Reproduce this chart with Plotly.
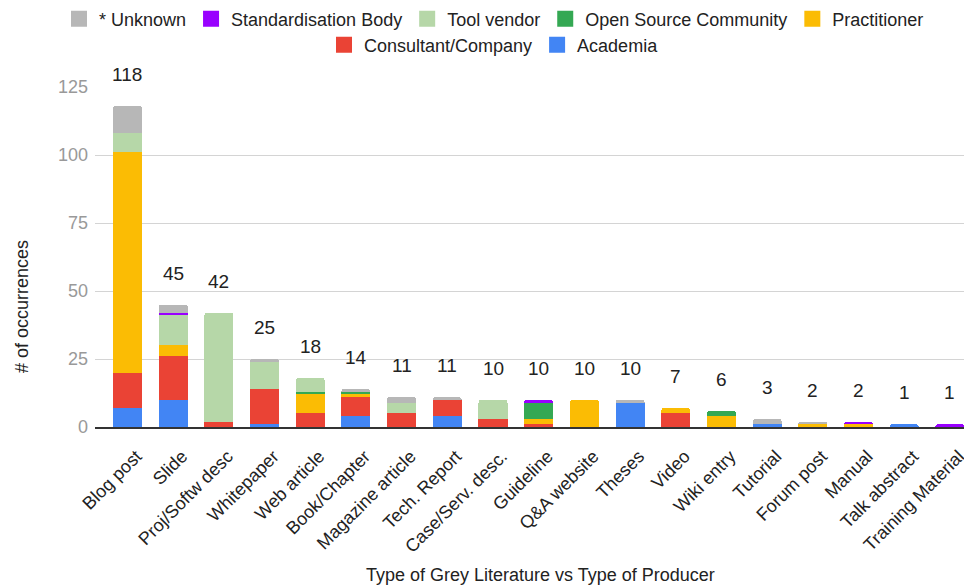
import plotly.graph_objects as go

categories = ["Blog post", "Slide", "Proj/Softw desc", "Whitepaper", "Web article",
              "Book/Chapter", "Magazine article", "Tech. Report", "Case/Serv. desc.",
              "Guideline", "Q&A website", "Theses", "Video", "Wiki entry", "Tutorial",
              "Forum post", "Manual", "Talk abstract", "Training Material"]

academia        = [7, 10, 0, 1, 0, 4, 0, 4, 0, 0, 0, 9, 0, 0, 1, 0, 0, 1, 0]
consultant      = [13, 16, 2, 13, 5, 7, 5, 6, 3, 1, 0, 0, 5, 0, 0, 0, 0, 0, 0]
practitioner    = [81, 4, 0, 0, 7, 1, 0, 0, 0, 2, 10, 0, 2, 4, 0, 1, 1, 0, 0]
open_source     = [0, 0, 0, 0, 1, 1, 0, 0, 0, 6, 0, 0, 0, 2, 0, 0, 0, 0, 0]
tool_vendor     = [7, 11, 40, 10, 5, 0, 4, 0, 7, 0, 0, 0, 0, 0, 0, 0, 0, 0, 0]
standardisation = [0, 1, 0, 0, 0, 0, 0, 0, 0, 1, 0, 0, 0, 0, 0, 0, 1, 0, 1]
unknown         = [10, 3, 0, 1, 0, 1, 2, 1, 0, 0, 0, 1, 0, 0, 2, 1, 0, 0, 0]

y_ticks = [0, 25, 50, 75, 100, 125]

# (name, values, colour, legend row, position in legend)
series = [
    ("Academia", academia, "#4285f4", "legend2", 2),
    ("Consultant/Company", consultant, "#ea4335", "legend2", 1),
    ("Practitioner", practitioner, "#fbbc04", "legend", 5),
    ("Open Source Community", open_source, "#34a853", "legend", 4),
    ("Tool vendor", tool_vendor, "#b6d7a8", "legend", 3),
    ("Standardisation Body", standardisation, "#9900ff", "legend", 2),
    ("* Unknown", unknown, "#b7b7b7", "legend", 1),
]

FONT = "Liberation Sans, Arial, sans-serif"
TXT = "#222222"

fig = go.Figure()
for name, vals, color, leg, rank in series:
    fig.add_trace(go.Bar(x=categories, y=vals, name=name, marker_color=color,
                         marker_line_width=0, showlegend=False))
# legend entries (square swatches)
for name, vals, color, leg, rank in series:
    fig.add_trace(go.Scatter(x=[None], y=[None], mode="markers", name=name,
                             marker=dict(symbol="square", size=16, color=color),
                             legend=leg, legendrank=rank, hoverinfo="skip"))

totals = [sum(s[1][i] for s in series) for i in range(len(categories))]
for c, t in zip(categories, totals):
    fig.add_annotation(x=c, y=t, text=str(t), showarrow=False, yanchor="bottom",
                       yshift=19, font=dict(size=19, color=TXT))

# axis titles
fig.add_annotation(text="Type of Grey Literature vs Type of Producer", xref="paper",
                   yref="paper", x=0.5086, y=-148 / 340, xanchor="center",
                   yanchor="middle", showarrow=False, font=dict(size=18, color=TXT))
fig.add_annotation(text="# of occurrences", xref="paper", yref="paper",
                   x=-73 / 875, y=120 / 340, xanchor="center", yanchor="middle",
                   textangle=-90, showarrow=False, font=dict(size=18, color=TXT))

leg_common = dict(orientation="h", x=0.5, xanchor="center", xref="container",
                  yref="container", yanchor="middle", traceorder="normal",
                  font=dict(size=18, color=TXT, family=FONT), itemsizing="trace",
                  bgcolor="rgba(0,0,0,0)")

fig.update_layout(
    width=972, height=588,
    barmode="stack", bargap=0.365, barcornerradius=3,
    paper_bgcolor="white", plot_bgcolor="white",
    font=dict(family=FONT, size=18, color=TXT),
    margin=dict(l=87, r=10, t=79, b=169, autoexpand=False),
    legend=dict(**leg_common, y=1 - 11 / 588),
    legend2=dict(**leg_common, y=1 - 37 / 588),
    xaxis=dict(tickangle=-45, showgrid=False, showline=True, linecolor="#333333",
               linewidth=1.5, ticks="", automargin=False, range=[-0.711, 18.44],
               ticklabelshift=9, ticklabelstandoff=10,
               tickfont=dict(size=18, color=TXT)),
    yaxis=dict(range=[0, 125], tickvals=y_ticks, showgrid=True, automargin=False,
               gridcolor="#d4d4d4", zeroline=False, ticks="", ticklabelstandoff=6,
               tickfont=dict(size=18, color="#999999")),
)

fig.write_html("out.html")
